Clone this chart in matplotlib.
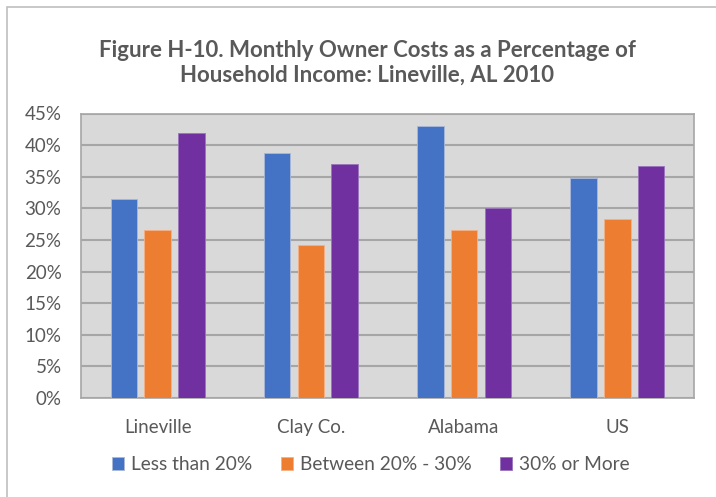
import matplotlib.pyplot as plt
import numpy as np
from matplotlib.patches import Rectangle
from matplotlib.ticker import PercentFormatter

plt.rcParams['font.family'] = ['Lato', 'DejaVu Sans']

categories = ["Lineville", "Clay Co.", "Alabama", "US"]
series_names = ["Less than 20%", "Between 20% - 30%", "30% or More"]
less_20 = [31.4, 38.7, 43.1, 34.8]
between_20_30 = [26.6, 24.2, 26.6, 28.3]
more_30 = [41.9, 37.0, 30.0, 36.7]
colors = ["#4472c4", "#ed7d31", "#7030a0"]
edge_colors = ["#a9b8d8", "#f4b183", "#9a74bd"]

text_col = "#595959"

fig = plt.figure(figsize=(7.16, 4.97), dpi=100)
ax = fig.add_axes([81 / 716, 99 / 497, 613 / 716, 284.5 / 497])

# outer chart border
fig.patches.append(Rectangle((7 / 716, -0.05), 1.2, 1 - 7 / 497 + 0.05,
                             transform=fig.transFigure, fill=False,
                             edgecolor="#bfbfbf", linewidth=1.2))

x = np.arange(len(categories))
width = 0.172
step = 0.22
for i, vals in enumerate([less_20, between_20_30, more_30]):
    ax.bar(x + (i - 1) * step, vals, width, color=colors[i], label=series_names[i],
           edgecolor=edge_colors[i], linewidth=0.6, zorder=3)

ax.set_xlim(-0.5, 3.5)
ax.set_ylim(0, 45)
ax.set_yticks(np.arange(0, 46, 5))
ax.yaxis.set_major_formatter(PercentFormatter(decimals=0))
ax.set_facecolor("#d9d9d9")
ax.grid(axis="y", color="#a6a6a6", linewidth=1.5, zorder=1)
ax.set_axisbelow(True)
for s in ax.spines.values():
    s.set_color("#a6a6a6")
    s.set_linewidth(1.2)
ax.tick_params(length=0, labelsize=13.5, colors=text_col)
ax.tick_params(axis="y", pad=14)
ax.tick_params(axis="x", pad=15)
ax.set_xticks(x)
ax.set_xticklabels(categories)

fig.text(0.513, 0.899, "Figure H-10. Monthly Owner Costs as a Percentage of",
         ha="center", va="center", fontsize=16, fontweight="bold", color=text_col)
fig.text(0.513, 0.849, "Household Income: Lineville, AL 2010",
         ha="center", va="center", fontsize=16, fontweight="bold", color=text_col)

fig.legend(loc="center", bbox_to_anchor=(0.518, 0.065), ncol=3, frameon=False,
           fontsize=13.8, handlelength=0.62, handleheight=0.62, handletextpad=0.35,
           columnspacing=1.5, labelcolor=text_col)

fig.savefig("out.png", dpi=100)
